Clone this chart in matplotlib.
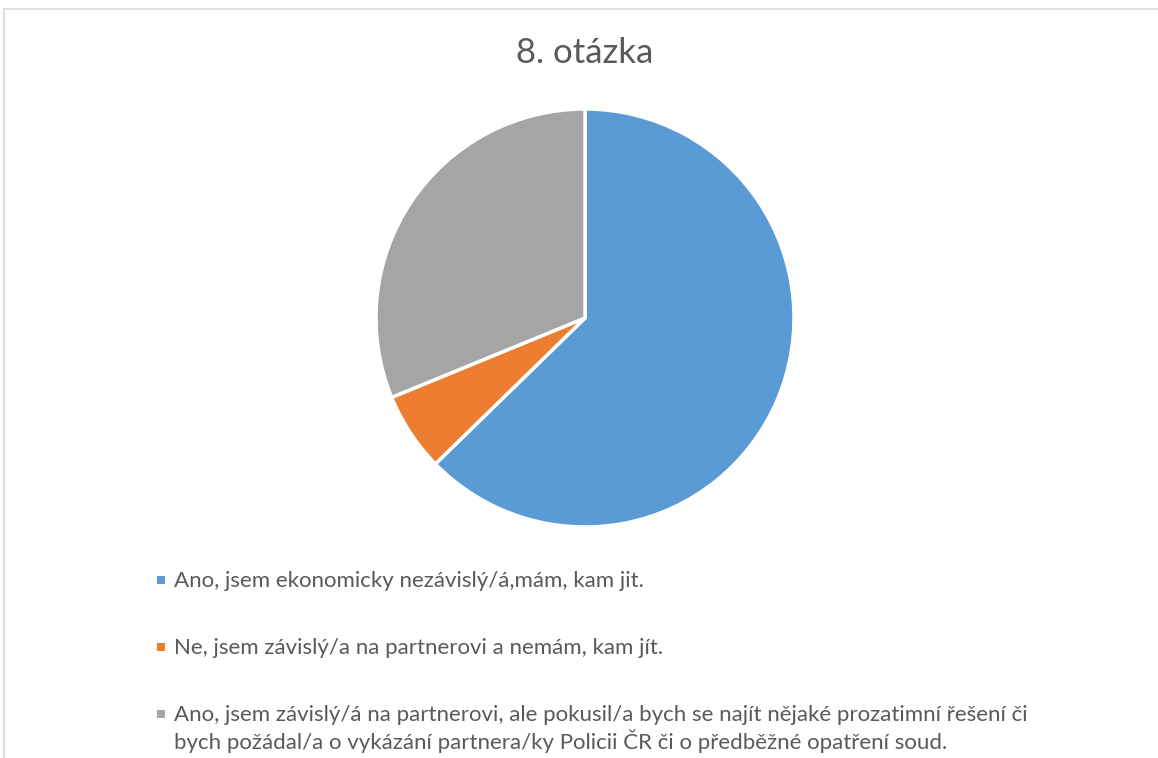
import matplotlib
matplotlib.use('Agg')
from matplotlib import pyplot as plt
from matplotlib.lines import Line2D
from matplotlib.patches import Rectangle

# survey answers for question 8 (share of respondents, %)
labels = [
    'Ano, jsem ekonomicky nezávislý/á,mám, kam jit.',
    'Ne, jsem závislý/a na partnerovi a nemám, kam jít.',
    'Ano, jsem závislý/á na partnerovi, ale pokusil/a bych se najít nějaké prozatimní řešení či\n'
    'bych požádal/a o vykázání partnera/ky Policii ČR či o předběžné opatření soud.',
]
shares = [62.7, 6.1, 31.2]
colors = ['#5B9BD5', '#ED7D31', '#A5A5A5']

TEXT = '#595959'
W, H = 1158, 758

plt.rcParams['font.family'] = ['Lato', 'DejaVu Sans']
fig = plt.figure(figsize=(W / 100, H / 100), dpi=100)

# chart frame (only top and left edges are in view)
fig.add_artist(Line2D([4 / W, 1], [1 - 9 / H, 1 - 9 / H], color='#D9D9D9', lw=1.2))
fig.add_artist(Line2D([4 / W, 4 / W], [0, 1 - 9 / H], color='#D9D9D9', lw=1.2))

fig.text(585 / W, 1 - 53 / H, '8. otázka', ha='center', va='center',
         fontsize=25, color=TEXT)

cx, cy, r = 585, 318, 209
pad = 1.02
ax = fig.add_axes([(cx - r * pad) / W, (H - cy - r * pad) / H,
                   2 * r * pad / W, 2 * r * pad / H])
ax.pie(shares, colors=colors, startangle=90, counterclock=False,
       wedgeprops=dict(edgecolor='white', linewidth=2.5))
ax.set_xlim(-pad, pad)
ax.set_ylim(-pad, pad)
ax.set_aspect('equal')
ax.axis('off')

# legend below the pie
rows = [580, 647, 714]
for lab, col, y in zip(labels, colors, rows):
    fig.add_artist(Rectangle((157 / W, 1 - (y + 4) / H), 8 / W, 8 / H,
                             facecolor=col, edgecolor='none'))
    fig.text(174 / W, 1 - (y - 9) / H, lab, ha='left', va='top',
             fontsize=16, color=TEXT, linespacing=1.25)

fig.savefig('out.png', dpi=100)
